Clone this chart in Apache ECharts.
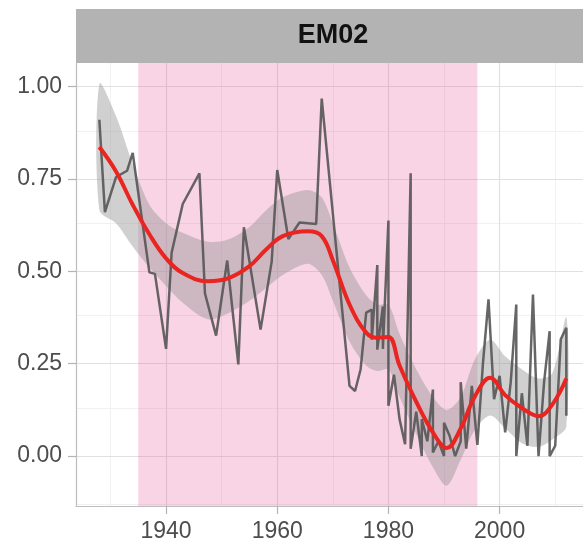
<!DOCTYPE html>
<html>
<head>
<meta charset="utf-8">
<script src="https://cdn.jsdelivr.net/npm/echarts@6.0.0/dist/echarts.min.js"></script>
<style>
  html, body { margin: 0; padding: 0; background: #fff; }
  #chart { width: 583px; height: 543px; }
</style>
</head>
<body>
<div id="chart"></div>
<script>
// observed series (years may repeat where the line doubles back)
const obsYears = [1928, 1929, 1931, 1933, 1934, 1937, 1938, 1940, 1941, 1943, 1946, 1947, 1949,
  1951, 1953, 1954, 1957, 1959, 1960, 1962, 1964, 1967, 1968, 1973, 1974, 1975, 1976, 1977, 1977,
  1978, 1978, 1979, 1979, 1980, 1980, 1981, 1982, 1983, 1984, 1984, 1985, 1986, 1986, 1987, 1988,
  1988, 1989, 1990, 1990, 1991, 1992, 1993, 1993, 1994, 1995, 1996, 1997, 1998, 1999, 2000, 2001,
  2002, 2003, 2003, 2004, 2005, 2006, 2007, 2008, 2009, 2009, 2010, 2011, 2012, 2012]
const obsValues = [0.91, 0.66, 0.755, 0.772, 0.82, 0.497, 0.493, 0.29, 0.55, 0.682, 0.765, 0.44, 0.326,
  0.529, 0.248, 0.619, 0.342, 0.526, 0.774, 0.587, 0.632, 0.628, 0.967, 0.19, 0.176, 0.235, 0.388, 0.396, 0.315,
  0.517, 0.288, 0.405, 0.29, 0.637, 0.136, 0.22, 0.10, 0.032, 0.765, 0.02, 0.12, 0.0, 0.1, 0.04, 0.18,
  0.01, 0.04, 0.0, 0.09, 0.055, 0.0, 0.04, 0.2, 0.02, 0.19, 0.03, 0.25, 0.424, 0.154, 0.217, 0.064,
  0.2, 0.41, 0.0, 0.17, 0.028, 0.437, 0.0, 0.2, 0.338, 0.0, 0.028, 0.316, 0.347, 0.109]

// smoother fit and its confidence band
const fitYears = [1928, 1931, 1934, 1937, 1940, 1943, 1947.5, 1951, 1955, 1958, 1961, 1965.5, 1968, 1970,
  1973, 1976, 1978, 1980, 1982, 1985, 1988, 1990.5, 1993, 1995.5, 1998.3, 2001, 2004, 2007, 2009.5, 2012]
const fitMid = [0.836, 0.77, 0.68, 0.60, 0.535, 0.495, 0.473, 0.48, 0.514, 0.559, 0.595, 0.608, 0.595, 0.53,
  0.41, 0.334, 0.32, 0.322, 0.245, 0.147, 0.064, 0.022, 0.075, 0.16, 0.212, 0.165, 0.13, 0.108, 0.14, 0.21]
const fitLow = [0.666, 0.63, 0.567, 0.51, 0.46, 0.415, 0.37, 0.385, 0.42, 0.455, 0.49, 0.52, 0.49, 0.42,
  0.31, 0.245, 0.23, 0.235, 0.16, 0.06, -0.03, -0.08, -0.01, 0.07, 0.11, 0.075, 0.035, 0.025, 0.045, 0.08]
const fitHigh = [1.007, 0.92, 0.79, 0.68, 0.63, 0.604, 0.58, 0.585, 0.62, 0.665, 0.70, 0.72, 0.70, 0.63,
  0.51, 0.435, 0.41, 0.41, 0.33, 0.235, 0.16, 0.125, 0.16, 0.26, 0.315, 0.27, 0.235, 0.21, 0.225, 0.375]

// shaded period
const periodStart = 1935
const periodEnd = 1996

// axis breaks
const xBreaks = [1940, 1960, 1980, 2000]
const xMinor = [1930, 1950, 1970, 1990, 2010]
const yBreaks = [0, 0.25, 0.5, 0.75, 1]
const yMinor = [-0.125, 0.125, 0.375, 0.625, 0.875]

const panelTitle = 'EM02'

const fontFamily = '"Liberation Sans", Arial, sans-serif'

// grid lines drawn as markLines so they line up with the custom breaks
const gridLines = []
xMinor.forEach(v => gridLines.push({ xAxis: v, lineStyle: { color: '#f1f1f1', width: 1 } }))
yMinor.forEach(v => gridLines.push({ yAxis: v, lineStyle: { color: '#f1f1f1', width: 1 } }))
xBreaks.forEach(v => gridLines.push({ xAxis: v, lineStyle: { color: '#e0e0e0', width: 1.2 } }))
yBreaks.forEach(v => gridLines.push({ yAxis: v, lineStyle: { color: '#e0e0e0', width: 1.2 } }))

const obsData = obsYears.map((y, i) => [y, obsValues[i]])
const fitData = fitYears.map((y, i) => [y, fitMid[i]])

const chart = echarts.init(document.getElementById('chart'))

chart.setOption({
  animation: false,
  backgroundColor: '#fff',
  grid: { left: 76, top: 63, right: 0, bottom: 36 },
  graphic: [
    {
      type: 'rect',
      left: 76, top: 9,
      shape: { width: 507, height: 54 },
      style: { fill: '#b3b3b3' }
    },
    {
      type: 'text',
      x: 333, y: 36,
      style: {
        text: panelTitle,
        fill: '#111',
        font: 'bold 27px ' + fontFamily,
        textAlign: 'center',
        textVerticalAlign: 'middle'
      }
    }
  ],
  xAxis: {
    type: 'value',
    min: 1923.8,
    max: 2015.0,
    splitLine: { show: false },
    axisLine: { show: true, onZero: false, lineStyle: { color: '#bdbdbd', width: 1.2 } },
    axisTick: { show: true, length: 8, customValues: xBreaks, lineStyle: { color: '#b3b3b3', width: 1.2 } },
    axisLabel: {
      customValues: xBreaks,
      formatter: v => String(v),
      color: '#4d4d4d', fontSize: 23, fontFamily: fontFamily, margin: 14
    }
  },
  yAxis: {
    type: 'value',
    min: -0.135,
    max: 1.0634,
    splitLine: { show: false },
    axisLine: { show: true, onZero: false, lineStyle: { color: '#bdbdbd', width: 1.2 } },
    axisTick: { show: true, length: 8, customValues: yBreaks, lineStyle: { color: '#b3b3b3', width: 1.2 } },
    axisLabel: {
      customValues: yBreaks,
      formatter: v => v.toFixed(2),
      color: '#4d4d4d', fontSize: 23, fontFamily: fontFamily, margin: 14
    }
  },
  series: [
    {
      // confidence band
      type: 'custom',
      z: 2,
      silent: true,
      data: [[fitYears[0], fitMid[0]]],
      encode: { x: 0, y: 1 },
      renderItem: (params, api) => {
        const pts = []
        for (let i = 0; i < fitYears.length; i++) pts.push(api.coord([fitYears[i], fitHigh[i]]))
        for (let i = fitYears.length - 1; i >= 0; i--) pts.push(api.coord([fitYears[i], fitLow[i]]))
        return {
          type: 'polygon',
          shape: { points: pts, smooth: 0.3 },
          style: { fill: 'rgba(150,150,150,0.45)' }
        }
      }
    },
    {
      type: 'line',
      z: 3,
      data: obsData,
      symbol: 'none',
      lineStyle: { color: '#555', width: 2.5, opacity: 0.9 },
      markLine: {
        silent: true, z: 0,
        symbol: ['none', 'none'],
        label: { show: false },
        lineStyle: { type: 'solid' },
        data: gridLines
      },
      markArea: {
        silent: true, z: 1,
        itemStyle: { color: 'rgba(231,84,148,0.25)' },
        data: [[{ xAxis: periodStart }, { xAxis: periodEnd }]]
      }
    },
    {
      type: 'line',
      z: 4,
      data: fitData,
      symbol: 'none',
      smooth: 0.4,
      lineStyle: { color: '#ea2420', width: 4 }
    }
  ]
})
</script>
</body>
</html>
